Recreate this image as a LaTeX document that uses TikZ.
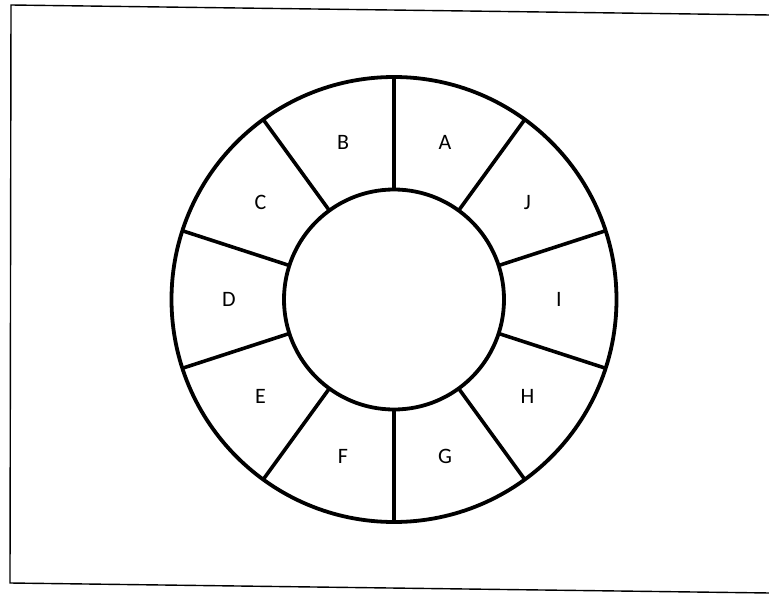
\documentclass[tikz,border=0pt]{standalone}
\usepackage{fontspec}
\setmainfont{Carlito}
\usepackage{tikz}
\usetikzlibrary{calc}

\begin{document}
\begin{tikzpicture}[x=1pt,y=-1pt]
	\useasboundingbox (0,0) rectangle (769,594);
	% Frame
	\draw[line width=1.4pt] (770,15) -- (11,5) -- (10,583) -- (770,593);
	% Ring
	\coordinate (centre) at (394,299.5);
	\draw[line width=3.8pt] (centre) circle (222.5);
	\draw[line width=3.8pt] (centre) circle (110);
	% Spokes and labels
	\foreach \lbl [count=\i] in {A,B,C,D,E,F,G,H,I,J} {
		\draw[line width=3.6pt] ($(centre)+({-90-36*(\i-1)}:110)$) -- ($(centre)+({-90-36*(\i-1)}:222.5)$);
		\node[font=\fontsize{22}{26}\selectfont] (sector\lbl) at ($(centre)+({-72-36*(\i-1)}:165)$) {\lbl};
	}
\end{tikzpicture}
\end{document}
